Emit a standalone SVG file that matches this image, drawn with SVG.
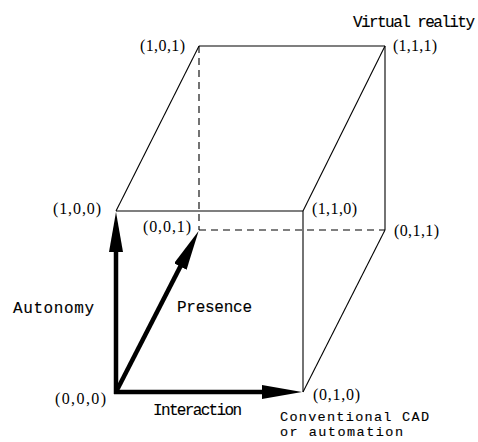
<svg xmlns="http://www.w3.org/2000/svg" width="478" height="442" viewBox="0 0 478 442">
<style>
.edge{stroke:#000;stroke-width:1.1;fill:none}
.dash{stroke:#000;stroke-width:1.1;fill:none;stroke-dasharray:7 5}
.axis{stroke:#000;stroke-width:4.5;fill:none}
.coord{font-family:"Liberation Serif","Times New Roman",serif;font-size:16px;fill:#000}
.lbl{font-family:"Liberation Mono","Courier New",monospace;font-size:16px;fill:#000;stroke:#000;stroke-width:0.12}
.sm{font-size:13.5px}
</style>
<defs>
<marker id="head" markerUnits="userSpaceOnUse" viewBox="0 0 40 14" refX="1" refY="7" markerWidth="40" markerHeight="14" orient="auto">
<path d="M0,0 L40,7 L0,14 Z" fill="#000"/>
</marker>
</defs>
<rect width="478" height="442" fill="#fff"/>
<g id="connectors">
<line class="edge" x1="116" y1="211" x2="303" y2="211"/>
<line class="edge" x1="303" y1="211" x2="303" y2="392"/>
<line class="edge" x1="116" y1="211" x2="199" y2="46"/>
<line class="edge" x1="199" y1="46" x2="385" y2="46"/>
<line class="edge" x1="303" y1="211" x2="385" y2="46"/>
<line class="edge" x1="385" y1="46" x2="385" y2="230"/>
<line class="edge" x1="303" y1="392" x2="385" y2="230"/>
<line class="dash" x1="199" y1="46" x2="199" y2="230"/>
<line class="dash" x1="199" y1="230" x2="385" y2="230"/>
<line class="axis" x1="116" y1="394" x2="116" y2="251" marker-end="url(#head)"/>
<line class="axis" x1="114" y1="392" x2="263" y2="392" marker-end="url(#head)"/>
<line class="axis" x1="116" y1="392" x2="180.8" y2="265.6" marker-end="url(#head)"/>
</g>
<g id="v000"><text class="coord" x="55" y="404" textLength="51" lengthAdjust="spacing">(0,0,0)</text></g>
<g id="v100"><text class="coord" x="53" y="214" textLength="48" lengthAdjust="spacing">(1,0,0)</text></g>
<g id="v010"><text class="coord" x="313" y="400" textLength="47" lengthAdjust="spacing">(0,1,0)</text></g>
<g id="v001"><text class="coord" x="143" y="232" textLength="48" lengthAdjust="spacing">(0,0,1)</text></g>
<g id="v110"><text class="coord" x="312" y="214" textLength="45" lengthAdjust="spacing">(1,1,0)</text></g>
<g id="v101"><text class="coord" x="140" y="51" textLength="45" lengthAdjust="spacing">(1,0,1)</text></g>
<g id="v011"><text class="coord" x="394" y="236" textLength="45" lengthAdjust="spacing">(0,1,1)</text></g>
<g id="v111"><text class="coord" x="393" y="51" textLength="44" lengthAdjust="spacing">(1,1,1)</text></g>
<g id="vr"><text class="lbl" x="353" y="27" textLength="122" lengthAdjust="spacing">Virtual reality</text></g>
<g id="autonomy"><text class="lbl" x="13" y="313" textLength="81" lengthAdjust="spacing">Autonomy</text></g>
<g id="presence"><text class="lbl" x="177" y="312" textLength="75" lengthAdjust="spacing">Presence</text></g>
<g id="interaction"><text class="lbl" x="153" y="415" textLength="89" lengthAdjust="spacing">Interaction</text></g>
<g id="cad">
<text class="lbl sm" x="280" y="421" textLength="149" lengthAdjust="spacing">Conventional CAD</text>
<text class="lbl sm" x="280" y="436" textLength="123" lengthAdjust="spacing">or automation</text>
</g>
</svg>
